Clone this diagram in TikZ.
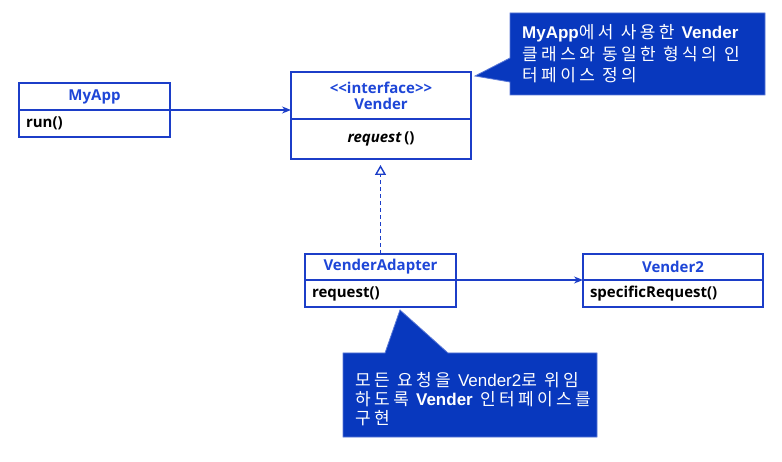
\documentclass[tikz,border=0pt]{standalone}
\usepackage{fontspec}
\setmainfont{Open Sans}
\newfontfamily\kr[LetterSpace=20]{Noto Sans CJK KR}
\newfontfamily\lat{Liberation Sans}
\usetikzlibrary{arrows.meta}
\definecolor{ln}{RGB}{28,62,200}
\definecolor{tt}{RGB}{30,70,215}
\definecolor{cf}{RGB}{8,56,190}
\definecolor{ce}{RGB}{90,120,215}
\tikzset{
  part/.style={draw=ln, line width=1.4pt, inner sep=0pt, outer sep=0pt,
    font=\fontsize{15}{18}\selectfont\bfseries},
  ttl/.style={part, text=tt, align=center},
  attr/.style={part, text=black, align=left, inner xsep=7pt},
  assoc/.style={draw=ln, line width=1.4pt, -{Stealth[length=9pt,width=7pt]}},
  real/.style={draw=ln, line width=1.4pt, dash pattern=on 4pt off 3pt,
    -{Triangle[open, length=10pt, width=11pt, fill=white]}},
  callout/.style={fill=cf, draw=ce, line width=0.8pt},
  ctext/.style={anchor=base west, inner sep=0pt, text=white,
    font=\kr\fontsize{17}{20}\selectfont},
}
\begin{document}
\begin{tikzpicture}[x=1pt,y=-1pt]
\useasboundingbox (0,0) rectangle (782,462);
% MyApp
\node[ttl, minimum width=151pt, minimum height=27pt] (myT) at (94.5,96.5) {MyApp};
\node[attr, text width=137pt, minimum height=27pt] (myA) at (94.5,123.5) {run()};
% Vender
\node[ttl, minimum width=180pt, minimum height=47pt] (vT) at (381,95.5) {{<}{<}interface{>}{>}\\[-2pt]Vender};
\node[part, minimum width=180pt, minimum height=40pt] (vA) at (381,139) {\textit{request}\,()};
% VenderAdapter
\node[ttl, minimum width=151pt, minimum height=26pt] (adT) at (380.5,267) {VenderAdapter};
\node[attr, text width=137pt, minimum height=27pt] (adA) at (380.5,293.5) {request()};
% Vender2
\node[ttl, minimum width=180pt, minimum height=26pt] (v2T) at (673,267) {Vender2};
\node[attr, text width=166pt, minimum height=27pt] (v2A) at (673,293.5) {specificRequest()};
% connectors
\draw[assoc] (myA.north east) -- (myA.north east -| vT.west);
\draw[assoc] (adA.north east) -- (adA.north east -| v2T.west);
\draw[real, shorten >=6pt] (adT.north) -- (adT.north |- vA.south);
% callout 1
\draw[callout] (510,13) -- (765,13) -- (765,95) -- (510,95) -- (510,82) -- (475,76) -- (510,58) -- cycle;
\node[ctext] (c1a) at (522,39) {{\lat\bfseries MyApp}에서 사용한 {\lat\bfseries Vender}};
\node[ctext] (c1b) at (522,61) {클래스와 동일한 형식의 인};
\node[ctext] (c1c) at (522,82) {터페이스 정의};
% callout 2
\draw[callout] (343,353) -- (385,353) -- (400,310) -- (448,353) -- (597,353) -- (597,437) -- (343,437) -- cycle;
\node[ctext] (c2a) at (355,386) {모든 요청을 {\lat Vender2}로 위임};
\node[ctext] (c2b) at (355,405) {하도록 {\lat\bfseries Vender} 인터페이스를};
\node[ctext] (c2c) at (355,424) {구현};
\end{tikzpicture}
\end{document}
